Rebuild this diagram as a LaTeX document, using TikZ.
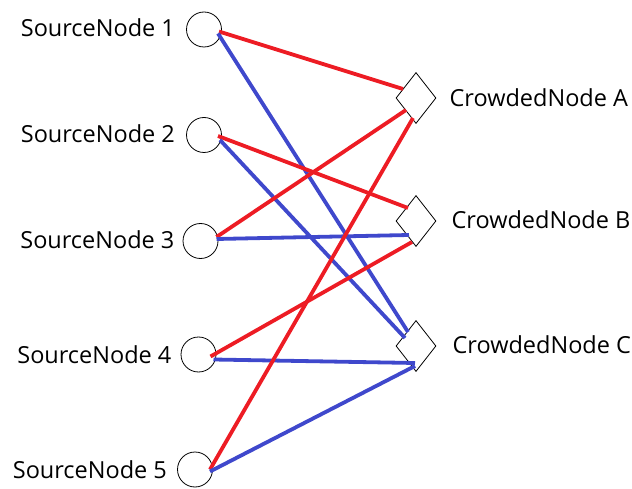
\documentclass[tikz,border=0pt]{standalone}
\usepackage{fontspec}
\setmainfont{Open Sans}
\usetikzlibrary{shapes.geometric,positioning}
\definecolor{pred}{HTML}{ED1C24}
\definecolor{pblue}{HTML}{3F48CC}
\tikzset{
  src/.style={circle,draw=black,line width=0.8pt,minimum size=35pt,inner sep=0pt},
  crowd/.style={diamond,draw=black,line width=0.8pt,minimum width=40pt,minimum height=51pt,inner sep=0pt},
  lbl/.style={font=\fontsize{23.5}{28}\selectfont,inner sep=0pt,text=black},
  redln/.style={draw=pred,line width=3.8pt},
  blueln/.style={draw=pblue,line width=3.8pt}
}
\begin{document}
\begin{tikzpicture}[x=1pt,y=-1pt]
\useasboundingbox (0,0) rectangle (632,489);
\node[src] (s1) at (204,29.5) {};
\node[src] (s2) at (204,135) {};
\node[src] (s3) at (200.5,241) {};
\node[src] (s4) at (198.5,354.5) {};
\node[src] (s5) at (195,469.5) {};
\node[crowd] (A) at (416,98) {};
\node[crowd] (B) at (416,221) {};
\node[crowd] (C) at (416,346) {};
\node[lbl,left=11pt of s1,yshift=1.5pt] (l1) {SourceNode 1};
\node[lbl,left=11pt of s2,yshift=1pt] (l2) {SourceNode 2};
\node[lbl,left=8pt of s3,yshift=1pt] (l3) {SourceNode 3};
\node[lbl,left=9pt of s4,yshift=0pt] (l4) {SourceNode 4};
\node[lbl,left=10pt of s5,yshift=0pt] (l5) {SourceNode 5};
\node[lbl,right=13pt of A] (la) {CrowdedNode A};
\node[lbl,right=15pt of B,yshift=1pt] (lb) {CrowdedNode B};
\node[lbl,right=16pt of C,yshift=1pt] (lc) {CrowdedNode C};
\draw[redln]  ([shift={(15,2)}]s1.center) -- ([shift={(-13,-9)}]A.center);
\draw[blueln] ([shift={(14,4)}]s1.center) -- ([shift={(-8,-14)}]C.center);
\draw[redln]  ([shift={(14,1)}]s2.center) -- ([shift={(-8,-13)}]B.center);
\draw[blueln] ([shift={(16,5)}]s2.center) -- ([shift={(-11,-8)}]C.center);
\draw[redln]  ([shift={(16,-4)}]s3.center) -- ([shift={(-10,12)}]A.center);
\draw[blueln] ([shift={(16,-2)}]s3.center) -- ([shift={(-7,14)}]B.center);
\draw[redln]  ([shift={(12,2)}]s4.center) -- ([shift={(-4,21)}]B.center);
\draw[blueln] ([shift={(15,5)}]s4.center) -- ([shift={(-1,17)}]C.center);
\draw[redln]  ([shift={(15,0)}]s5.center) -- ([shift={(-3,20)}]A.center);
\draw[blueln] ([shift={(15,2)}]s5.center) -- ([shift={(-1,20)}]C.center);
\end{tikzpicture}
\end{document}
